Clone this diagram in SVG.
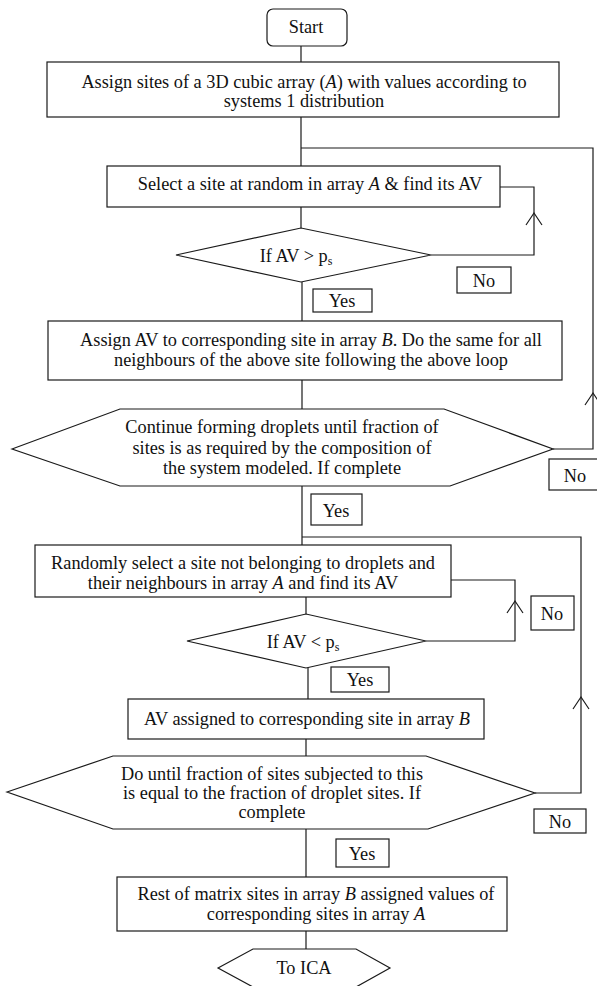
<svg xmlns="http://www.w3.org/2000/svg" xmlns:xlink="http://www.w3.org/1999/xlink" width="597" height="986" viewBox="0 0 597 986">
<style>
.box{fill:#fff;stroke:#1a1a1a;stroke-width:1.2}
.t{font-family:"Liberation Serif","Times New Roman",serif;font-size:18.3px;text-anchor:middle;fill:#111}
.conn{fill:none;stroke:#1a1a1a;stroke-width:1.2}
.i{font-style:italic}
</style>
<defs>
<path id="chev" d="M-8,12 L0,0 L8,12" fill="none" stroke="#1a1a1a" stroke-width="1.2"/>
</defs>
<rect width="597" height="986" fill="#fff"/>
<g id="connectors">
<path class="conn" d="M301,46 V62"/>
<path class="conn" d="M301,117 V166"/>
<path class="conn" d="M301,148 H593 V449 H553"/>
<use xlink:href="#chev" href="#chev" x="593" y="393"/>
<path class="conn" d="M301,207 V228"/>
<path class="conn" d="M431,255 H534 V187 H500"/>
<use xlink:href="#chev" href="#chev" x="534" y="213"/>
<path class="conn" d="M302,282 V321"/>
<path class="conn" d="M302,380 V409"/>
<path class="conn" d="M302,486 V545"/>
<path class="conn" d="M302,537 H581 V793 H535"/>
<use xlink:href="#chev" href="#chev" x="581" y="697"/>
<path class="conn" d="M306,597 V614"/>
<path class="conn" d="M426,641 H515 V580 H451"/>
<use xlink:href="#chev" href="#chev" x="515" y="601"/>
<path class="conn" d="M308,668 V699"/>
<path class="conn" d="M306,739 V756"/>
<path class="conn" d="M306,829 V877"/>
<path class="conn" d="M306,931 V949"/>
</g>
<g id="start">
<rect class="box" x="267" y="9" width="80" height="37" rx="6"/>
<text class="t" x="306" y="33">Start</text>
</g>
<g id="assign-sites">
<rect class="box" x="47" y="62" width="512" height="55"/>
<text class="t" x="304" y="88">Assign sites of a 3D cubic array (<tspan class="i">A</tspan>) with values according to</text>
<text class="t" x="304" y="107">systems 1 distribution</text>
</g>
<g id="select-site">
<rect class="box" x="107" y="166" width="393" height="41"/>
<text class="t" x="310" y="190">Select a site at random in array <tspan class="i">A</tspan> &amp; find its AV</text>
</g>
<g id="decision1">
<polygon class="box" points="176,255 301,228 431,255 301,282"/>
<text class="t" x="296" y="262">If AV &gt; p<tspan font-size="12" dy="3">s</tspan></text>
</g>
<g id="no1">
<rect class="box" x="457" y="267" width="54" height="26"/>
<text class="t" x="484" y="287">No</text>
</g>
<g id="yes1">
<rect class="box" x="313" y="289" width="59" height="23"/>
<text class="t" x="342" y="307">Yes</text>
</g>
<g id="assign-av">
<rect class="box" x="48" y="321" width="514" height="59"/>
<text class="t" x="311" y="346">Assign AV to corresponding site in array <tspan class="i">B</tspan>. Do the same for all</text>
<text class="t" x="311" y="366">neighbours of the above site following the above loop</text>
</g>
<g id="decision2">
<polygon class="box" points="12,449 120,409 444,409 553,449 450,486 120,486"/>
<text class="t" x="282" y="433">Continue forming droplets until fraction of</text>
<text class="t" x="282" y="454">sites is as required by the composition of</text>
<text class="t" x="282" y="474">the system modeled. If complete</text>
</g>
<g id="no2">
<rect class="box" x="549" y="459" width="52" height="31"/>
<text class="t" x="575" y="482">No</text>
</g>
<g id="yes2">
<rect class="box" x="311" y="494" width="51" height="31"/>
<text class="t" x="336" y="517">Yes</text>
</g>
<g id="random-select">
<rect class="box" x="35" y="545" width="416" height="52"/>
<text class="t" x="243" y="569">Randomly select a site not belonging to droplets and</text>
<text class="t" x="243" y="589">their neighbours in array <tspan class="i">A</tspan> and find its AV</text>
</g>
<g id="decision3">
<polygon class="box" points="187,641 306,614 426,641 306,668"/>
<text class="t" x="303" y="648">If AV &lt; p<tspan font-size="12" dy="3">s</tspan></text>
</g>
<g id="no3">
<rect class="box" x="531" y="596" width="43" height="34"/>
<text class="t" x="552" y="620">No</text>
</g>
<g id="yes3">
<rect class="box" x="331" y="667" width="58" height="25"/>
<text class="t" x="360" y="686">Yes</text>
</g>
<g id="av-assigned">
<rect class="box" x="128" y="699" width="356" height="40"/>
<text class="t" x="307" y="725">AV assigned to corresponding site in array <tspan class="i">B</tspan></text>
</g>
<g id="decision4">
<polygon class="box" points="7,792 113,756 426,756 535,793 428,829 113,829"/>
<text class="t" x="272" y="780">Do until fraction of sites subjected to this</text>
<text class="t" x="272" y="799">is equal to the fraction of droplet sites. If</text>
<text class="t" x="272" y="818">complete</text>
</g>
<g id="no4">
<rect class="box" x="534" y="809" width="52" height="24"/>
<text class="t" x="560" y="828">No</text>
</g>
<g id="yes4">
<rect class="box" x="336" y="839" width="53" height="28"/>
<text class="t" x="362" y="860">Yes</text>
</g>
<g id="rest-matrix">
<rect class="box" x="117" y="877" width="390" height="54"/>
<text class="t" x="316" y="900">Rest of matrix sites in array <tspan class="i">B</tspan> assigned values of</text>
<text class="t" x="316" y="920">corresponding sites in array <tspan class="i">A</tspan></text>
</g>
<g id="to-ica">
<polygon class="box" points="218,968 253,949 356,949 390,968 356,987 253,987"/>
<text class="t" x="304" y="974">To ICA</text>
</g>
</svg>
